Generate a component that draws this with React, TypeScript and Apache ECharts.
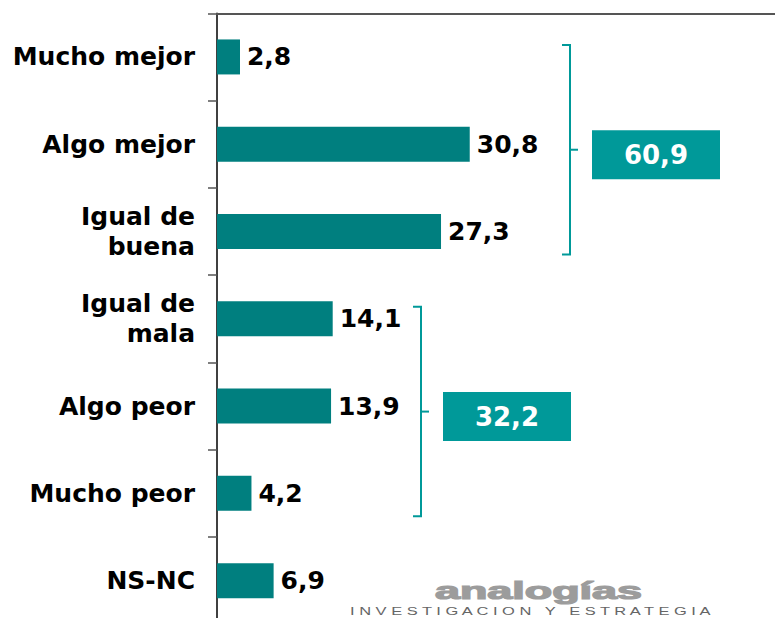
import React, { useEffect, useRef } from "react";
import * as echarts from "echarts";

const categories = [
  "Mucho mejor",
  "Algo mejor",
  "Igual de\nbuena",
  "Igual de\nmala",
  "Algo peor",
  "Mucho peor",
  "NS-NC",
];
const values = [2.8, 30.8, 27.3, 14.1, 13.9, 4.2, 6.9];
const groupTotals = [60.9, 32.2];
const groupFirst = [0, 3];
const groupLast = [2, 5];
const logoText = "analogías";
const logoSub = "INVESTIGACION Y ESTRATEGIA";

const BAR = "#007f7f";
const ACCENT = "#009999";
const FONT = "DejaVu Sans";

const fmt = (v: number) => v.toFixed(1).replace(".", ",");

function measure(text: string, font: string): number {
  const c = document.createElement("canvas");
  const ctx = c.getContext("2d");
  if (!ctx) return text.length * 8;
  ctx.font = font;
  return ctx.measureText(text).width;
}

export default function App() {
  const ref = useRef<HTMLDivElement>(null);
  useEffect(() => {
    if (!ref.current) return;
    const chart = echarts.init(ref.current, undefined, { renderer: "svg" });
    chart.setOption({
      animation: false,
      backgroundColor: "#ffffff",
      grid: { left: 217, right: 0, top: 13.3, height: 611 },
      xAxis: {
        type: "value",
        min: 0,
        max: 68,
        position: "top",
        axisLine: { show: true, lineStyle: { color: "#555555", width: 2 } },
        axisTick: { show: false },
        axisLabel: { show: false },
        splitLine: { show: false },
      },
      yAxis: {
        type: "category",
        inverse: true,
        data: categories,
        axisLine: { show: true, lineStyle: { color: "#000000", width: 1.5 } },
        axisTick: { show: true, length: 9, lineStyle: { color: "#555555", width: 1.5 } },
        axisLabel: {
          margin: 22,
          fontFamily: FONT,
          fontWeight: "bold",
          fontSize: 25,
          color: "#000000",
          lineHeight: 30,
          align: "right",
        },
      },
      series: [
        {
          type: "bar",
          data: values,
          barWidth: 35,
          itemStyle: { color: BAR },
          label: {
            show: true,
            position: "right",
            distance: 7,
            formatter: (p: any) => fmt(p.value),
            fontFamily: FONT,
            fontWeight: "bold",
            fontSize: 25,
            color: "#000000",
          },
        },
      ],
    });

    const bracketX = [570, 421];
    const graphics: any[] = [];
    groupTotals.forEach((t, i) => {
      const c0 = chart.convertToPixel({ yAxisIndex: 0 }, categories[groupFirst[i]]) as number;
      const c1 = chart.convertToPixel({ yAxisIndex: 0 }, categories[groupLast[i]]) as number;
      const top = c0 - 12;
      const bottom = c1 + 23;
      const mid = (top + bottom) / 2;
      const x = bracketX[i];
      graphics.push({
        type: "polyline",
        shape: { points: [[x - 8, top], [x, top], [x, bottom], [x - 8, bottom]] },
        style: { stroke: ACCENT, lineWidth: 2, fill: "none" },
      });
      graphics.push({
        type: "line",
        shape: { x1: x, y1: mid, x2: x + 8, y2: mid },
        style: { stroke: ACCENT, lineWidth: 2 },
      });
      const bx = x + 22;
      const by = mid + 5 - 24.5;
      graphics.push({
        type: "rect",
        shape: { x: bx, y: by, width: 128, height: 49 },
        style: { fill: ACCENT },
      });
      graphics.push({
        type: "text",
        x: bx + 64,
        y: by + 24.5,
        style: {
          text: fmt(t),
          fill: "#ffffff",
          font: `bold 26px "${FONT}"`,
          align: "center",
          verticalAlign: "middle",
        },
      });
    });

    const logoFont = 'bold 23px "Liberation Sans"';
    const lw = measure(logoText, logoFont);
    graphics.push({
      type: "text",
      x: 435,
      y: 591,
      scaleX: 207 / lw,
      style: {
        text: logoText,
        fill: "#9c9c9c",
        stroke: "#9c9c9c",
        lineWidth: 1.2,
        font: logoFont,
        align: "left",
        verticalAlign: "middle",
      },
    });
    const subFont = '10px "Liberation Sans"';
    const spaced = logoSub.split("").join(" ");
    const sw = measure(spaced, subFont);
    graphics.push({
      type: "text",
      x: 350,
      y: 612,
      scaleX: 368 / sw,
      style: {
        text: spaced,
        fill: "#666666",
        font: subFont,
        align: "left",
        verticalAlign: "middle",
      },
    });

    chart.setOption({ graphic: graphics });
    return () => chart.dispose();
  }, []);

  return (
    <div
      style={{
        position: "fixed",
        left: 0,
        top: 0,
        width: 775,
        height: 618,
        overflow: "hidden",
        background: "#ffffff",
      }}
    >
      <div ref={ref} style={{ position: "absolute", left: 0, top: 0, width: 775, height: 632 }} />
    </div>
  );
}
